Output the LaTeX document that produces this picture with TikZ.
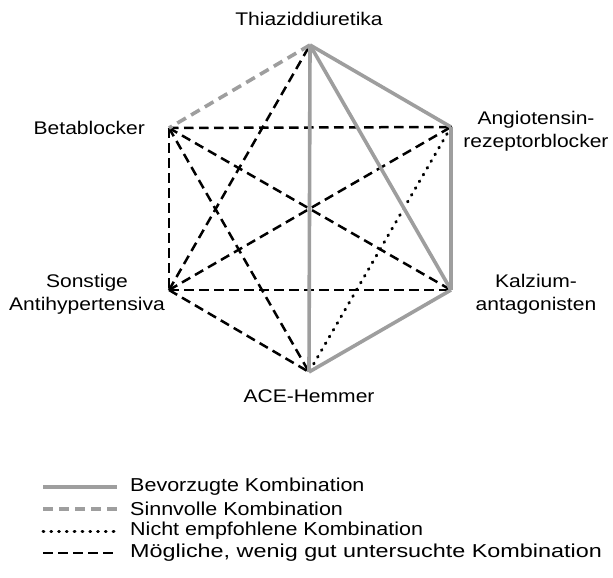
\documentclass[tikz,border=0pt]{standalone}
\usepackage{fontspec}
\setmainfont{Liberation Sans}[FakeStretch=1.15]
\newfontfamily\widefont{Liberation Sans}[FakeStretch=1.25]
\definecolor{lgray}{RGB}{158,158,158}
\begin{document}
\begin{tikzpicture}[x=1pt,y=-1pt,
  lbl/.style={font=\fontsize{18.3}{23}\selectfont, inner sep=0pt, align=center},
  legtxt/.style={font=\fontsize{18.7}{23}\selectfont, inner sep=0pt, anchor=west},
  pref/.style={draw=lgray, line width=3.6pt},
  sinn/.style={draw=lgray, line width=3.6pt, dash pattern=on 10pt off 6pt},
  nicht/.style={draw=black, line width=3pt, line cap=round, dash pattern=on 0.8pt off 7pt},
  moegl/.style={draw=black, line width=2.5pt, dash pattern=on 9.5pt off 5.5pt}]
\useasboundingbox (0,0) rectangle (613,578);
% vertices
\coordinate (T) at (310,45);
\coordinate (B) at (169,128);
\coordinate (A) at (451,127);
\coordinate (S) at (169,290);
\coordinate (K) at (451,290);
\coordinate (C) at (309,372);
% labels
\node[lbl] (lT) at (309,19) {Thiaziddiuretika};
\node[lbl, anchor=east] (lB) at (145,128) {Betablocker};
\node[lbl] (lA) at (536,131) {Angiotensin-\\rezeptorblocker};
\node[lbl] (lK) at (536,294) {Kalzium-\\antagonisten};
\node[lbl] (lS) at (87,294) {Sonstige\\Antihypertensiva};
\node[lbl] (lC) at (309,396) {ACE-Hemmer};
% possible, little studied
\draw[moegl] (B) -- (A);
\draw[moegl] (B) -- (K);
\draw[moegl] (B) -- (S);
\draw[moegl] (B) -- (C);
\draw[moegl] (S) -- (T);
\draw[moegl] (S) -- (A);
\draw[moegl] (S) -- (K);
\draw[moegl] (S) -- (C);
% not recommended
\draw[nicht] (A) -- (C);
% useful
\draw[sinn] (T) -- (B);
% preferred
\draw[pref] (T) -- (C);
\draw[pref] (T) -- (A);
\draw[pref] (T) -- (K);
\draw[pref] (A) -- (K);
\draw[pref] (K) -- (C);
% legend
\coordinate (g1a) at (43,487); \coordinate (g1b) at (117,487);
\coordinate (g2a) at (43,509); \coordinate (g2b) at (117,509);
\coordinate (g3a) at (43,531); \coordinate (g3b) at (117,531);
\coordinate (g4a) at (43,553); \coordinate (g4b) at (117,553);
\draw[pref] (g1a) -- (g1b);
\draw[sinn] (g2a) -- (g2b);
\draw[nicht] (g3a) -- (g3b);
\draw[moegl] (g4a) -- (g4b);
\node[legtxt] (t1) at (130,487) {Bevorzugte Kombination};
\node[legtxt] (t2) at (130,509) {Sinnvolle Kombination};
\node[legtxt] (t3) at (130,531) {Nicht empfohlene Kombination};
\node[legtxt] (t4) at (130,553) {\widefont Mögliche, wenig gut untersuchte Kombination};
\end{tikzpicture}
\end{document}
